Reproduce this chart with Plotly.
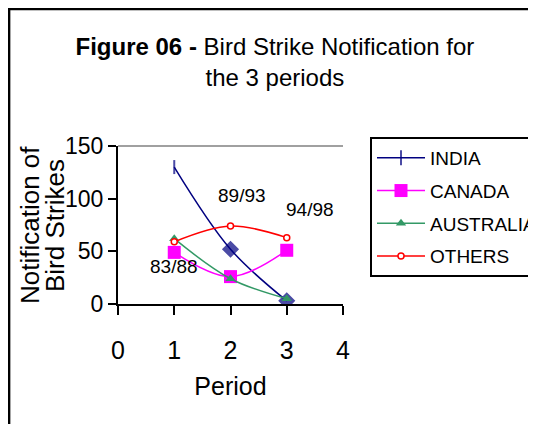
import plotly.graph_objects as go

periods = [1, 2, 3]
period_labels = ["83/88", "89/93", "94/98"]
label_x = [1.0, 2.2, 3.42]
label_y = [36, 103, 90]

india = [130, 52, 3]
canada = [49, 26, 51]
australia = [62, 24, 5]
others = [59, 74, 63]

FONT = "Liberation Sans, Arial, sans-serif"

fig = go.Figure()

fig.add_trace(go.Scatter(
    x=periods, y=india, name="INDIA", mode="lines+markers", legendgroup="a",
    line=dict(color="#000080", width=1.5, shape="spline"),
    marker=dict(symbol=["line-ns", "diamond", "diamond"], size=[10, 11, 11], color="#000080",
                line=dict(color="#000080", width=2))))
fig.add_trace(go.Scatter(
    x=periods, y=canada, name="CANADA", mode="lines+markers", legendgroup="b",
    line=dict(color="#FF00FF", width=1.5, shape="spline"),
    marker=dict(symbol="square", size=13, color="#FF00FF")))
fig.add_trace(go.Scatter(
    x=periods, y=australia, name="AUSTRALIA", mode="lines+markers", legendgroup="c",
    line=dict(color="#339966", width=1.5, shape="spline"),
    marker=dict(symbol="triangle-up", size=9, color="#339966")))
fig.add_trace(go.Scatter(
    x=periods, y=others, name="OTHERS", mode="lines+markers", legendgroup="d",
    line=dict(color="#FF0000", width=1.5, shape="spline"),
    marker=dict(symbol="circle", size=6, color="white", line=dict(color="#FF0000", width=1.5))))

for lx, ly, txt in zip(label_x, label_y, period_labels):
    fig.add_annotation(x=lx, y=ly, text=txt, showarrow=False,
                       font=dict(family=FONT, size=19, color="black"))

# y axis title, two rotated lines
for xp, txt in [(-0.391, "Notification of"), (-0.28, "Bird Strikes")]:
    fig.add_annotation(x=xp, y=0.5, xref="paper", yref="paper", text=txt, textangle=-90,
                       showarrow=False, xanchor="center", yanchor="middle",
                       font=dict(family=FONT, size=26, color="black"))

fig.update_layout(
    width=536, height=424,
    margin=dict(l=110, r=201, t=138, b=128, autoexpand=False),
    paper_bgcolor="white", plot_bgcolor="white",
    font=dict(family=FONT, color="black"),
    title=dict(text="<b>Figure 06 - </b>Bird Strike Notification for<br>the 3 periods",
               x=0.498, xanchor="center", y=0.89, yanchor="top",
               font=dict(family=FONT, size=24, color="black")),
    legend=dict(x=1.12, xanchor="left", y=1.057, yanchor="top",
                bordercolor="black", borderwidth=2, bgcolor="white",
                font=dict(family=FONT, size=19, color="black"),
                tracegroupgap=5, itemwidth=48),
    showlegend=True,
    shapes=[
        dict(type="line", xref="paper", yref="paper", x0=0, x1=1, y0=1, y1=1,
             line=dict(color="#808080", width=1.5), layer="below"),
        dict(type="rect", xref="paper", yref="paper", x0=-0.484, x1=1.95, y0=-0.85, y1=1.867,
             line=dict(color="black", width=2.5), layer="below"),
    ],
)

fig.update_xaxes(range=[0, 4], dtick=1, showgrid=False, zeroline=False,
                 showline=True, linecolor="black", linewidth=2,
                 ticks="outside", ticklen=9, tickwidth=2, tickcolor="black",
                 ticklabelstandoff=14,
                 tickfont=dict(family=FONT, size=25, color="black"),
                 title=dict(text="Period", font=dict(family=FONT, size=25, color="black"), standoff=14))
fig.update_yaxes(range=[0, 150], dtick=50, showgrid=False, zeroline=False,
                 showline=True, linecolor="black", linewidth=2,
                 ticks="outside", ticklen=8, tickwidth=2, tickcolor="black",
                 ticklabelstandoff=0,
                 tickfont=dict(family=FONT, size=23, color="black"))

fig.write_html("out.html")
